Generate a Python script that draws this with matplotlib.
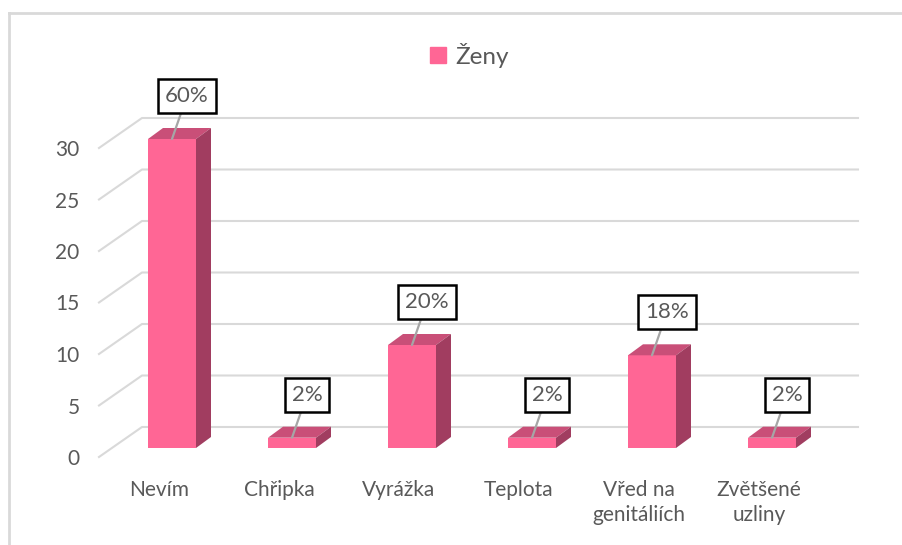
import matplotlib.pyplot as plt
from matplotlib.patches import Polygon
from matplotlib.lines import Line2D

categories = ["Nevím", "Chřipka", "Vyrážka", "Teplota", "Vřed na\ngenitáliích", "Zvětšené\nuzliny"]
values = [30, 1, 10, 1, 9, 1]
pct_labels = ["60%", "2%", "20%", "2%", "18%", "2%"]
yticks = [0, 5, 10, 15, 20, 25, 30]
series_name = "Ženy"

plt.rcParams['font.family'] = ['Lato', 'DejaVu Sans']
txt = '#595959'
grid = '#D9D9D9'
front_c = '#FF6695'
top_c = '#C94F78'
side_c = '#A13D60'

W, H = 902, 545
fig = plt.figure(figsize=(W / 100, H / 100), dpi=100)

# axes box in pixels (left, right, bottom, top)
L, R, B, T = 99, 858, 470, 100
ax = fig.add_axes([L / W, 1 - B / H, (R - L) / W, (B - T) / H])
px_x = 120.0   # pixels per category
px_y = 10.3    # pixels per unit
y0 = 457       # pixel row of value 0 on the front plane
x_first = 159  # pixel column of first category on the front plane
ax.set_xlim((L - x_first) / px_x, (R - x_first) / px_x)
ax.set_ylim(-(B - y0) / px_y, (y0 - T) / px_y)

# back wall + diagonal gridlines
wdx, wdy = 43 / px_x, 30 / px_y
xa = ax.get_xlim()[0]
xb = ax.get_xlim()[1]
for v in yticks:
    ax.plot([xa, xa + wdx, xb], [v, v + wdy, v + wdy], color=grid, lw=1.5,
            clip_on=False, zorder=1)

# pseudo 3D bars
bdx, bdy = 13 / px_x, 9 / px_y      # offset of bar front from floor front
ddx, ddy = 15 / px_x, 11 / px_y      # bar depth
bw = 48 / px_x
xs = list(range(len(categories)))
for x, v, lab in zip(xs, values, pct_labels):
    xc = x + bdx
    xl, xr = xc - bw / 2, xc + bw / 2
    yb, yt = bdy, v + bdy
    ax.bar(xc, v, width=bw, bottom=yb, color=front_c, zorder=3)
    ax.add_patch(Polygon([(xl, yt), (xr, yt), (xr + ddx, yt + ddy), (xl + ddx, yt + ddy)],
                         closed=True, fc=top_c, ec='none', zorder=3))
    ax.add_patch(Polygon([(xr, yb), (xr + ddx, yb + ddy), (xr + ddx, yt + ddy), (xr, yt)],
                         closed=True, fc=side_c, ec='none', zorder=3))
    ax.annotate(lab, xy=(xc, yt), xytext=(15, 43), textcoords='offset pixels',
                ha='center', va='center', fontsize=16, color=txt, zorder=5,
                bbox=dict(boxstyle='square,pad=0.32', fc='white', ec='black', lw=1.8),
                arrowprops=dict(arrowstyle='-', color='#A6A6A6', lw=1.6,
                                shrinkA=0, shrinkB=0))

ax.set_xticks(xs)
ax.set_xticklabels(categories, fontsize=15, color=txt, linespacing=1.3)
ax.set_yticks(yticks)
ax.set_yticklabels([str(v) for v in yticks], fontsize=15, color=txt)
ax.tick_params(axis='x', length=0, pad=7)
ax.tick_params(axis='y', length=0, pad=14)
for s in ax.spines.values():
    s.set_visible(False)
ax.set_facecolor('none')

handle = Line2D([], [], marker='s', ls='', color=front_c, markersize=11)
fig.legend([handle], [series_name], loc='center', bbox_to_anchor=(467 / W, 1 - 55 / H),
           frameon=False, fontsize=17.5, labelcolor=txt, handletextpad=0.2,
           handlelength=1.0)

# chart border (left and top edges)
fig.add_artist(Line2D([9 / W, 9 / W], [0, 1 - 13 / H], transform=fig.transFigure,
                      color=grid, lw=2))
fig.add_artist(Line2D([9 / W, 1], [1 - 13 / H, 1 - 13 / H], transform=fig.transFigure,
                      color=grid, lw=2))

fig.savefig('out.png', dpi=100)
